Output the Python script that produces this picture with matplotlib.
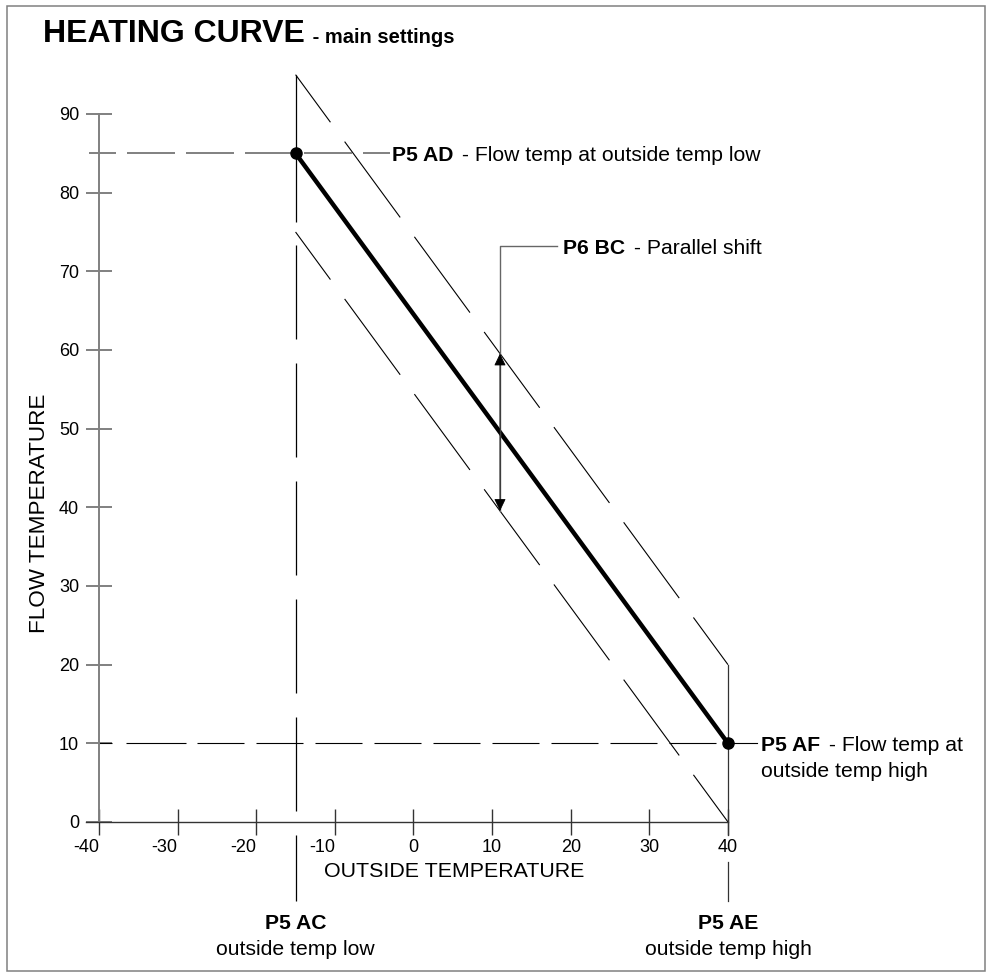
import matplotlib
matplotlib.use("Agg")
import matplotlib.pyplot as plt
from matplotlib.patches import Rectangle
import numpy as np

plt.rcParams['font.family'] = ['Liberation Sans', 'DejaVu Sans']
plt.rcParams['lines.scale_dashes'] = False
plt.rcParams['axes.unicode_minus'] = False

# heating curve settings
temp_low = -15     # P5 AC - outside temp low
temp_high = 40     # P5 AE - outside temp high
flow_low = 85      # P5 AD - flow temp at outside temp low
flow_high = 10     # P5 AF - flow temp at outside temp high
shift = 10         # P6 BC - parallel shift
shift_x = 11       # where the shift arrow is drawn

x_ticks = [-40, -30, -20, -10, 0, 10, 20, 30, 40]
y_ticks = [0, 10, 20, 30, 40, 50, 60, 70, 80, 90]
x_label = 'OUTSIDE TEMPERATURE'
y_label = 'FLOW TEMPERATURE'

W, H = 987, 974
PT = 0.72  # points per pixel at dpi 100


def px(*vals):
    return [v * PT for v in vals]


fig = plt.figure(figsize=(W / 100, H / 100), dpi=100)
ax = fig.add_axes([0, 0, 1, 1])
# -40 -> 99px, 40 -> 728px ; 0 -> 822px, 90 -> 114px
sx = (728 - 99) / 80
sy = (822 - 114) / 90
ax.set_xlim(-40 - 99 / sx, -40 + (W - 99) / sx)
ax.set_ylim(-(H - 822) / sy, 822 / sy)

# axes as a cross-tick drawing
for s in ['top', 'right']:
    ax.spines[s].set_visible(False)
ax.spines['left'].set_position(('data', -40))
ax.spines['left'].set_bounds(0, 90)
ax.spines['left'].set_color('#808080')
ax.spines['left'].set_linewidth(1.4)
ax.spines['bottom'].set_position(('data', 0))
ax.spines['bottom'].set_bounds(-41.7, 40)
ax.spines['bottom'].set_color('#333333')
ax.spines['bottom'].set_linewidth(1.0)
ax.set_xticks(x_ticks)
ax.set_yticks(y_ticks)
ax.tick_params(axis='x', direction='inout', length=26 * PT, width=1.0,
               color='#333333', pad=3, labelsize=13)
ax.tick_params(axis='y', direction='inout', length=26 * PT, width=1.4,
               color='#808080', pad=5, labelsize=13)
for tick, v in zip(ax.xaxis.get_major_ticks(), x_ticks):
    tick.label1.set_horizontalalignment('right' if v < 0 else 'center')

ax.set_xlabel(x_label, fontsize=15.4)
ax.xaxis.label.set_va('center_baseline')
ax.xaxis.set_label_coords(5.15, -6.1, transform=ax.transData)
ax.set_ylabel(y_label, fontsize=16.2)
ax.yaxis.label.set_va('center')
ax.yaxis.set_label_coords(-47.6, 39.2, transform=ax.transData)

y_bottom = -10

# parallel shifted curves
ax.plot([temp_low, temp_high], [flow_low + shift, flow_high + shift], color='black',
        lw=0.8, ls=(35 * PT, px(94, 24)))
ax.plot([temp_low, temp_high], [flow_low - shift, flow_high - shift], color='black',
        lw=0.8, ls=(35 * PT, px(94, 24)))

# outside temp low / high verticals
ax.plot([temp_low, temp_low], [flow_low + shift, y_bottom], color='black', lw=0.9,
        ls=(0, px(147, 23, 94, 24, 94, 24, 94, 24, 94, 24, 94, 24, 70, 40)))
ax.plot([temp_high, temp_high], [flow_high + shift, -1.65], color='#333333', lw=0.9)
ax.plot([temp_high, temp_high], [-5.1, y_bottom], color='#333333', lw=0.9)

# flow temp guides
ax.plot([-41.3, -3.0], [flow_low, flow_low], color='#808080', lw=1.4,
        ls=(21 * PT, px(48, 11)))
ax.plot([-40, temp_high], [flow_high, flow_high], color='black', lw=0.8,
        ls=(0, px(13, 14, 60, 11) + px(47, 12) * 9))
ax.plot([temp_high, 43.7], [flow_high, flow_high], color='black', lw=0.8)

# heating curve
ax.plot([temp_low, temp_high], [flow_low, flow_high], color='black', lw=3.2,
        marker='o', ms=8, solid_capstyle='butt')

# parallel shift arrow
mid = np.interp(shift_x, [temp_low, temp_high], [flow_low, flow_high])
leader_y = 73.2
ax.plot([shift_x, shift_x, 18.3], [mid - shift, leader_y, leader_y],
        color='#666666', lw=1.0)
for tip in [mid + shift, mid - shift]:
    ax.annotate('', xy=(shift_x, tip), xytext=(shift_x, mid),
                arrowprops=dict(arrowstyle='-|>,head_length=0.75,head_width=0.36',
                                color='black', lw=0.6, shrinkA=0, shrinkB=0))


def label(x, y, bold, rest):
    t = ax.text(x, y, bold, fontsize=15.2, fontweight='bold', ha='left',
                va='center_baseline')
    ax.annotate(rest, xy=(1, 0), xycoords=t, xytext=(2.0, 0),
                textcoords='offset points', fontsize=15.2, ha='left', va='bottom')
    return t


label(-2.7, flow_low, 'P5 AD', ' - Flow temp at outside temp low')
label(19.0, leader_y, 'P6 BC', ' - Parallel shift')
label(44.2, flow_high, 'P5 AF', ' - Flow temp at')
ax.text(44.2, flow_high - 3.3, 'outside temp high', fontsize=15.2, ha='left',
        va='center_baseline')

for xx, txt in [(temp_low, 'outside temp low'), (temp_high, 'outside temp high')]:
    name = 'P5 AC' if xx == temp_low else 'P5 AE'
    ax.text(xx, -12.7, name, fontsize=15.2, fontweight='bold', ha='center',
            va='center_baseline')
    ax.text(xx, -16.0, txt, fontsize=15.2, ha='center', va='center_baseline')

# title
t = fig.text(43 / W, 1 - 42 / H, 'HEATING CURVE', fontsize=23, fontweight='bold',
             va='baseline')
ax.annotate(' - main settings', xy=(1, 0), xycoords=t, xytext=(1.5, 1.7),
            textcoords='offset points', fontsize=14.5, fontweight='bold',
            ha='left', va='bottom')

# frame around the drawing
fig.add_artist(Rectangle((7 / W, 3 / H), (985 - 7) / W, (971 - 6) / H,
                         transform=fig.transFigure, fill=False,
                         edgecolor='#808080', lw=1.1))

fig.savefig('out.png', dpi=100)
